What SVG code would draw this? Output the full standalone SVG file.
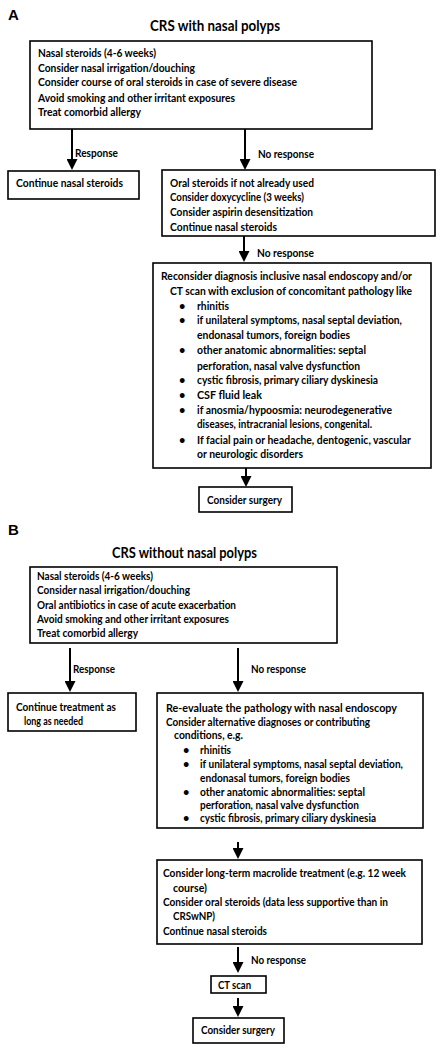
<svg xmlns="http://www.w3.org/2000/svg" width="442" height="1050" viewBox="0 0 442 1050">
<defs>
<style>
.box{fill:#fff;stroke:#000;stroke-width:1.6}
.t{font-family:Lato,"Liberation Sans",sans-serif;font-weight:bold;font-size:11px;fill:#000}
.title{font-family:Lato,"Liberation Sans",sans-serif;font-weight:bold;font-size:15px;fill:#000}
.lbl{font-family:"Liberation Sans",Arial,sans-serif;font-weight:bold;font-size:15px;fill:#000}
.c{stroke:#000;stroke-width:2;fill:none;marker-end:url(#ah)}
</style>
<marker id="ah" markerUnits="userSpaceOnUse" markerWidth="11" markerHeight="11" refX="0" refY="5.5" orient="auto" viewBox="0 0 11 11">
<path d="M0,0 L11,5.5 L0,11 z" fill="#000"/>
</marker>
</defs>
<rect width="442" height="1050" fill="#fff"/>

<text class="lbl" x="8" y="20">A</text>
<text class="title" x="150" y="31" textLength="130" lengthAdjust="spacingAndGlyphs">CRS with nasal polyps</text>

<g id="connectors">
<line class="c" x1="72" y1="129" x2="72" y2="159"/>
<line class="c" x1="245" y1="129" x2="245" y2="159"/>
<line class="c" x1="244" y1="236" x2="244" y2="251"/>
<line class="c" x1="246" y1="468" x2="246" y2="476"/>
<line class="c" x1="70" y1="648" x2="70" y2="681"/>
<line class="c" x1="238" y1="648" x2="238" y2="681"/>
<line class="c" x1="238" y1="842" x2="238" y2="848"/>
<line class="c" x1="238" y1="947" x2="238" y2="962"/>
<line class="c" x1="238" y1="998" x2="238" y2="1006"/>
<text class="t" x="75" y="157" textLength="43" lengthAdjust="spacingAndGlyphs">Response</text>
<text class="t" x="258" y="158" textLength="56" lengthAdjust="spacingAndGlyphs">No response</text>
<text class="t" x="257" y="257" textLength="57" lengthAdjust="spacingAndGlyphs">No response</text>
<text class="t" x="73" y="673" textLength="42" lengthAdjust="spacingAndGlyphs">Response</text>
<text class="t" x="251" y="673" textLength="55" lengthAdjust="spacingAndGlyphs">No response</text>
<text class="t" x="251" y="964" textLength="55" lengthAdjust="spacingAndGlyphs">No response</text>
</g>

<g id="a1">
<rect class="box" x="30" y="41" width="342" height="88"/>
<text class="t" x="38" y="57" textLength="118" lengthAdjust="spacingAndGlyphs">Nasal steroids (4-6 weeks)</text>
<text class="t" x="38" y="72" textLength="157" lengthAdjust="spacingAndGlyphs">Consider nasal irrigation/douching</text>
<text class="t" x="38" y="86" textLength="259" lengthAdjust="spacingAndGlyphs">Consider course of oral steroids in case of severe disease</text>
<text class="t" x="38" y="102" textLength="197" lengthAdjust="spacingAndGlyphs">Avoid smoking and other irritant exposures</text>
<text class="t" x="38" y="116" textLength="103" lengthAdjust="spacingAndGlyphs">Treat comorbid allergy</text>
</g>

<g id="a2">
<rect class="box" x="8" y="171" width="131" height="28"/>
<text class="t" x="16" y="187" textLength="107" lengthAdjust="spacingAndGlyphs">Continue nasal steroids</text>
</g>

<g id="a3">
<rect class="box" x="162" y="170" width="273" height="66"/>
<text class="t" x="170" y="187" textLength="144" lengthAdjust="spacingAndGlyphs">Oral steroids if not already used</text>
<text class="t" x="170" y="201" textLength="134" lengthAdjust="spacingAndGlyphs">Consider doxycycline (3 weeks)</text>
<text class="t" x="170" y="216" textLength="143" lengthAdjust="spacingAndGlyphs">Consider aspirin desensitization</text>
<text class="t" x="170" y="231" textLength="107" lengthAdjust="spacingAndGlyphs">Continue nasal steroids</text>
</g>

<g id="a4">
<rect class="box" x="153" y="263" width="278" height="205"/>
<text class="t" x="161" y="280" textLength="251" lengthAdjust="spacingAndGlyphs">Reconsider diagnosis inclusive nasal endoscopy and/or</text>
<text class="t" x="170" y="295" textLength="242" lengthAdjust="spacingAndGlyphs">CT scan with exclusion of concomitant pathology like</text>
<text class="t" x="179" y="310">•</text><text class="t" x="197" y="310" textLength="32" lengthAdjust="spacingAndGlyphs">rhinitis</text>
<text class="t" x="179" y="324">•</text><text class="t" x="197" y="324" textLength="205" lengthAdjust="spacingAndGlyphs">if unilateral symptoms, nasal septal deviation,</text>
<text class="t" x="197" y="339" textLength="153" lengthAdjust="spacingAndGlyphs">endonasal tumors, foreign bodies</text>
<text class="t" x="179" y="354">•</text><text class="t" x="197" y="354" textLength="169" lengthAdjust="spacingAndGlyphs">other anatomic abnormalities: septal</text>
<text class="t" x="197" y="370" textLength="163" lengthAdjust="spacingAndGlyphs">perforation, nasal valve dysfunction</text>
<text class="t" x="179" y="384">•</text><text class="t" x="197" y="384" textLength="181" lengthAdjust="spacingAndGlyphs">cystic fibrosis, primary ciliary dyskinesia</text>
<text class="t" x="179" y="399">•</text><text class="t" x="197" y="399" textLength="65" lengthAdjust="spacingAndGlyphs">CSF fluid leak</text>
<text class="t" x="179" y="414">•</text><text class="t" x="197" y="414" textLength="195" lengthAdjust="spacingAndGlyphs">if anosmia/hypoosmia: neurodegenerative</text>
<text class="t" x="197" y="428" textLength="175" lengthAdjust="spacingAndGlyphs">diseases, intracranial lesions, congenital.</text>
<text class="t" x="179" y="444">•</text><text class="t" x="197" y="444" textLength="214" lengthAdjust="spacingAndGlyphs">If facial pain or headache, dentogenic, vascular</text>
<text class="t" x="197" y="458" textLength="106" lengthAdjust="spacingAndGlyphs">or neurologic disorders</text>
</g>

<g id="a5">
<rect class="box" x="199" y="487" width="93" height="25"/>
<text class="t" x="207" y="504" textLength="75" lengthAdjust="spacingAndGlyphs">Consider surgery</text>
</g>

<text class="lbl" x="8" y="535">B</text>
<text class="title" x="112" y="558" textLength="145" lengthAdjust="spacingAndGlyphs">CRS without nasal polyps</text>

<g id="b1">
<rect class="box" x="30" y="567" width="307" height="76"/>
<text class="t" x="37" y="580" textLength="116" lengthAdjust="spacingAndGlyphs">Nasal steroids (4-6 weeks)</text>
<text class="t" x="37" y="594" textLength="153" lengthAdjust="spacingAndGlyphs">Consider nasal irrigation/douching</text>
<text class="t" x="37" y="609" textLength="199" lengthAdjust="spacingAndGlyphs">Oral antibiotics in case of acute exacerbation</text>
<text class="t" x="37" y="623" textLength="192" lengthAdjust="spacingAndGlyphs">Avoid smoking and other irritant exposures</text>
<text class="t" x="37" y="637" textLength="101" lengthAdjust="spacingAndGlyphs">Treat comorbid allergy</text>
</g>

<g id="b2">
<rect class="box" x="8" y="693" width="128" height="38"/>
<text class="t" x="16" y="711" textLength="100" lengthAdjust="spacingAndGlyphs">Continue treatment as</text>
<text class="t" x="24" y="725" textLength="59" lengthAdjust="spacingAndGlyphs">long as needed</text>
</g>

<g id="b3">
<rect class="box" x="157" y="693" width="266" height="135"/>
<text class="t" x="166" y="712" textLength="231" lengthAdjust="spacingAndGlyphs">Re-evaluate the pathology with nasal endoscopy</text>
<text class="t" x="166" y="726" textLength="204" lengthAdjust="spacingAndGlyphs">Consider alternative diagnoses or contributing</text>
<text class="t" x="174" y="739" textLength="69" lengthAdjust="spacingAndGlyphs">conditions, e.g.</text>
<text class="t" x="183" y="754">•</text><text class="t" x="200" y="754" textLength="31" lengthAdjust="spacingAndGlyphs">rhinitis</text>
<text class="t" x="183" y="768">•</text><text class="t" x="200" y="768" textLength="203" lengthAdjust="spacingAndGlyphs">if unilateral symptoms, nasal septal deviation,</text>
<text class="t" x="200" y="782" textLength="150" lengthAdjust="spacingAndGlyphs">endonasal tumors, foreign bodies</text>
<text class="t" x="183" y="796">•</text><text class="t" x="200" y="796" textLength="165" lengthAdjust="spacingAndGlyphs">other anatomic abnormalities: septal</text>
<text class="t" x="200" y="809" textLength="159" lengthAdjust="spacingAndGlyphs">perforation, nasal valve dysfunction</text>
<text class="t" x="183" y="822">•</text><text class="t" x="200" y="822" textLength="176" lengthAdjust="spacingAndGlyphs">cystic fibrosis, primary ciliary dyskinesia</text>
</g>

<g id="b4">
<rect class="box" x="157" y="860" width="265" height="84"/>
<text class="t" x="163" y="877" textLength="243" lengthAdjust="spacingAndGlyphs">Consider long-term macrolide treatment (e.g. 12 week</text>
<text class="t" x="173" y="892" textLength="34" lengthAdjust="spacingAndGlyphs">course)</text>
<text class="t" x="163" y="906" textLength="225" lengthAdjust="spacingAndGlyphs">Consider oral steroids (data less supportive than in</text>
<text class="t" x="173" y="920" textLength="42" lengthAdjust="spacingAndGlyphs">CRSwNP)</text>
<text class="t" x="163" y="935" textLength="104" lengthAdjust="spacingAndGlyphs">Continue nasal steroids</text>
</g>

<g id="b5">
<rect class="box" x="211" y="976" width="55" height="17"/>
<text class="t" x="218" y="989" textLength="33" lengthAdjust="spacingAndGlyphs">CT scan</text>
</g>

<g id="b6">
<rect class="box" x="193" y="1018" width="91" height="25"/>
<text class="t" x="201" y="1034" textLength="74" lengthAdjust="spacingAndGlyphs">Consider surgery</text>
</g>
</svg>
